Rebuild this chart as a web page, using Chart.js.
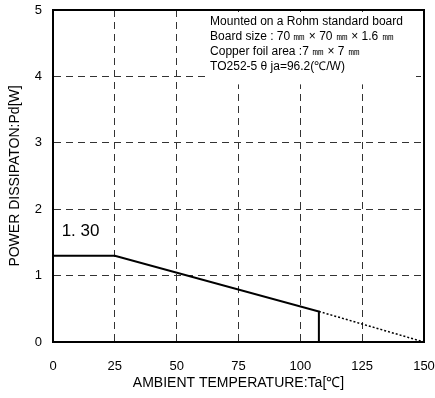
<!DOCTYPE html>
<html><head><meta charset="utf-8">
<script src="https://cdn.jsdelivr.net/npm/chart.js@4/dist/chart.umd.min.js"></script>
<style>html,body{margin:0;padding:0;background:#fff}#wrap{width:435px;height:398px}</style>
</head><body><div id="wrap"><canvas id="c" width="435" height="398"></canvas></div>
<script>
// Data
const solidTa = [0, 25, 107.5, 107.5];
const solidPd = [1.30, 1.30, 0.46, 0];
const dottedTa = [107.5, 150];
const dottedPd = [0.46, 0];
const xTicks = [0, 25, 50, 75, 100, 125, 150];
const yTicks = [0, 1, 2, 3, 4, 5];
const noteLines = [
  "Mounted on a Rohm standard board",
  "Board size : 70 \u339c \u00d7 70 \u339c \u00d7 1.6 \u339c",
  "Copper foil area :7 \u339c \u00d7 7 \u339c",
  "TO252-5 \u03b8 ja=96.2(\u2103/W)"
];
const valueLabel = "1. 30";
const xTitle = "AMBIENT TEMPERATURE:Ta[\u2103]";
const yTitle = "POWER DISSIPATON:Pd[W]";

const toPts = (xs, ys) => xs.map((x, i) => ({x, y: ys[i]}));

const overlay = {
  id: 'overlay',
  beforeDatasetsDraw(chart) {
    const {ctx, chartArea: a, scales: {x, y}} = chart;
    ctx.save();
    const bx = x.getPixelForValue(61.5), by = a.top + 2;
    ctx.fillStyle = '#fff';
    ctx.fillRect(bx, by, a.right - 8 - bx, y.getPixelForValue(3.88) - by);
    ctx.fillStyle = '#000';
    ctx.font = '12px "Liberation Sans", Arial, sans-serif';
    ctx.textBaseline = 'middle';
    ctx.textAlign = 'left';
    noteLines.forEach((t, i) => ctx.fillText(t, bx + 5, a.top + 12 + i * 15));
    ctx.font = '17px "Liberation Sans", Arial, sans-serif';
    ctx.fillText(valueLabel, x.getPixelForValue(3.5), y.getPixelForValue(1.66));
    ctx.restore();
  },
  afterDraw(chart) {
    const {ctx, chartArea: a} = chart;
    ctx.save();
    ctx.strokeStyle = '#000';
    ctx.lineWidth = 2;
    ctx.strokeRect(a.left, a.top, a.right - a.left, a.bottom - a.top);
    ctx.restore();
  }
};

new Chart(document.getElementById('c'), {
  type: 'scatter',
  data: {
    datasets: [
      {data: toPts(solidTa, solidPd), showLine: true, borderColor: '#000', borderWidth: 2, pointRadius: 0, tension: 0},
      {data: toPts(dottedTa, dottedPd), showLine: true, borderColor: '#000', borderWidth: 1.5, borderDash: [2, 2], pointRadius: 0, tension: 0}
    ]
  },
  options: {
    responsive: false,
    animation: false,
    events: [],
    layout: {padding: {top: 10, right: 11, left: 0, bottom: 0}},
    plugins: {legend: {display: false}, tooltip: {enabled: false}},
    scales: {
      x: {
        type: 'linear', min: 0, max: 150,
        afterBuildTicks: s => { s.ticks = xTicks.map(v => ({value: v})); },
        afterFit: s => { s.height = 56; s.paddingLeft = 0; s.paddingRight = 0; },
        grid: {color: '#333', lineWidth: 1, drawTicks: false},
        border: {display: true, color: '#000', width: 2, dash: [7, 5]},
        ticks: {color: '#000', padding: 17, font: {family: '"Liberation Sans", Arial, sans-serif', size: 13}, maxRotation: 0},
        title: {display: true, text: xTitle, color: '#000', font: {family: '"Liberation Sans", Arial, sans-serif', size: 14}, padding: {top: 0, bottom: 6}}
      },
      y: {
        type: 'linear', min: 0, max: 5,
        afterBuildTicks: s => { s.ticks = yTicks.map(v => ({value: v})); },
        afterFit: s => { s.width = 53; s.paddingTop = 0; s.paddingBottom = 0; },
        grid: {color: '#333', lineWidth: 1, drawTicks: false},
        border: {display: true, color: '#000', width: 2, dash: [7, 5]},
        ticks: {color: '#000', padding: 11, font: {family: '"Liberation Sans", Arial, sans-serif', size: 13}},
        title: {display: true, text: yTitle, color: '#000', font: {family: '"Liberation Sans", Arial, sans-serif', size: 14}, padding: {top: 7, bottom: 0}}
      }
    }
  },
  plugins: [overlay]
});
</script></body></html>
